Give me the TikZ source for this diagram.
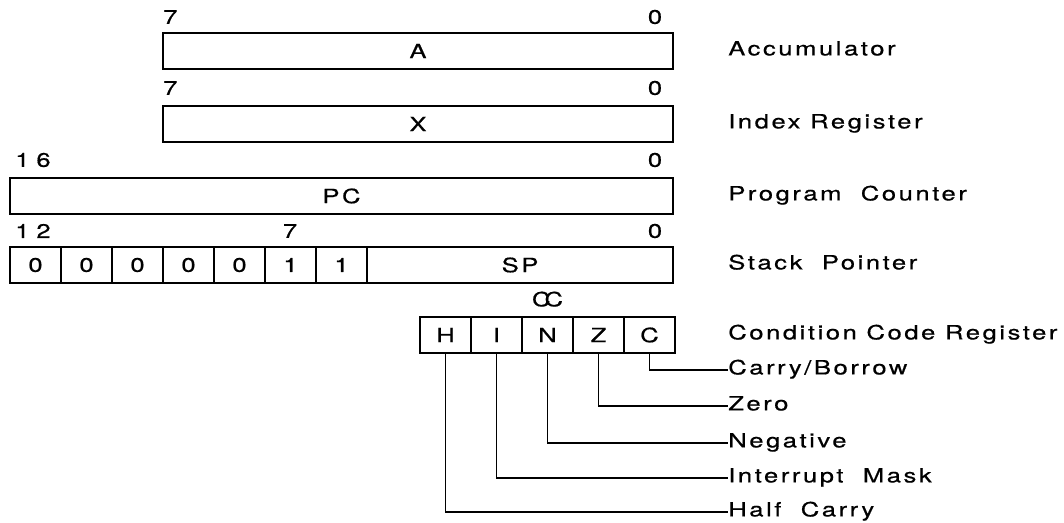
\documentclass[tikz,border=0pt]{standalone}
\usepackage{fontspec}
\setmainfont[FakeStretch=1.3,LetterSpace=13,FakeBold=0.6]{TeX Gyre Heros}
\usetikzlibrary{positioning}
\newcommand{\regfont}{\fontsize{14}{16}\selectfont}
\tikzset{
  regbox/.style={rectangle, draw=black, line width=1.3pt, inner sep=0pt,
                 outer sep=0pt, minimum height=0.9cm, font=\regfont},
  bitcell/.style={regbox, minimum width=1.275cm},
  bitnum/.style={inner sep=0pt, font=\regfont},
  regname/.style={anchor=west, inner sep=0pt, font=\regfont,
                  text height=1.6ex, text depth=0.4ex},
  leader/.style={draw=black, line width=1.3pt},
}

\begin{document}
\begin{tikzpicture}[x=0.025cm, y=-0.025cm]
    \useasboundingbox (0,0) rectangle (1064,523);
    %% accumulator, index register, program counter
    \node[regbox, minimum width=12.75cm] (A) at (418,51) {A};
    \node[regbox, minimum width=12.75cm] (X) at (418,124) {X};
    \node[regbox, minimum width=16.575cm] (PC) at (341.5,196) {PC};
    %% stack pointer: seven fixed upper bits, then SP
    \foreach \i/\b in {0/0,1/0,2/0,3/0,4/0,5/1,6/1}{
      \node[bitcell] (s\i) at ({35.5+51*\i},265) {\b};
    }
    \node[regbox, minimum width=7.65cm, anchor=west] (SP) at (s6.east) {SP};
    %% condition code register
    \foreach \i/\f in {0/H,1/I,2/N,3/Z,4/C}{
      \node[bitcell] (c\f) at ({445.5+51*\i},335) {\f};
    }
    \node[bitnum, above=0.25cm of cN] (CC) {C\kern-0.3em C};
    %% bit numbers
    \foreach \n/\y in {A/17,X/88,PC/160,SP/231}{
      \node[bitnum] (\n lo) at (655,\y) {0};
    }
    \node[bitnum, anchor=west] (Ahi) at (163,17) {7};
    \node[bitnum, anchor=west] (Xhi) at (163,88) {7};
    \node[bitnum, anchor=west] (PChi) at (15,160) {1\hspace{0.35em}6};
    \node[bitnum, anchor=west] (SPhi) at (15,231) {1\hspace{0.35em}2};
    \node[bitnum] (SPmid) at (290,231) {7};
    %% register names
    \foreach \n/\y/\t in {A/51/Accumulator,X/124/Index Register,
                          PC/196/Program\ \ Counter,SP/265/Stack\ \ Pointer,
                          CC/335/Condition Code Register}{
      \node[regname] (l\n) at (728,\y) {\t};
    }
    %% flag names and leaders
    \foreach \f/\y/\t in {C/370/{Carry/Borrow},Z/406/Zero,N/443/Negative,
                          I/478/Interrupt\ \ Mask,H/512/Half\ \ Carry}{
      \node[regname] (l\f) at (728,\y) {\t};
      \draw[leader] (c\f.south) |- (l\f.west);
    }
\end{tikzpicture}
\end{document}
